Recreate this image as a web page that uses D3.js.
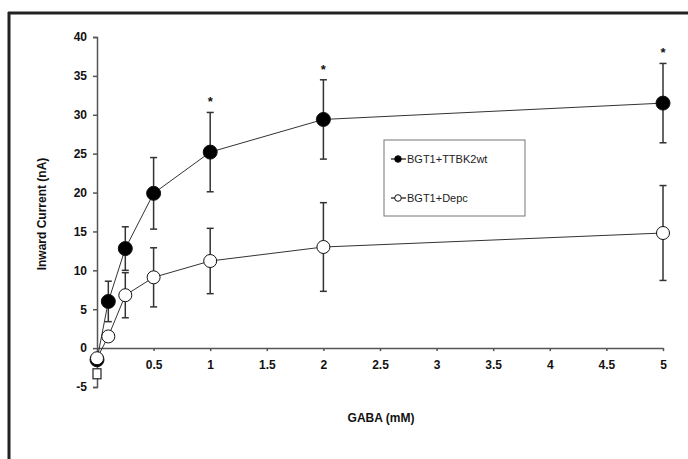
<!DOCTYPE html>
<html>
<head>
<meta charset="utf-8">
<script src="https://cdn.jsdelivr.net/npm/d3@7"></script>
<style>
  body { margin: 0; background: #fff; }
  text { font-family: "Liberation Sans", Arial, sans-serif; }
  .tick text { font-weight: bold; font-size: 12px; fill: #111; }
</style>
</head>
<body>
<svg id="chart" width="688" height="459"></svg>
<script>
const width = 688;
const height = 459;

// GABA concentration (mM)
const gaba = [0, 0.1, 0.25, 0.5, 1, 2, 5];

// BGT1+TTBK2wt mean and SEM
const ttbkMean = [-1.5, 6.0, 12.8, 19.9, 25.2, 29.4, 31.5];
const ttbkErr  = [0.5, 2.6, 2.8, 4.6, 5.1, 5.1, 5.1];

// BGT1+Depc mean and SEM
const depcMean = [-1.3, 1.5, 6.8, 9.1, 11.2, 13.0, 14.8];
const depcErr  = [0.4, 0.6, 2.9, 3.8, 4.2, 5.7, 6.1];

// control square markers at 0 mM
const ctrlX = [0];
const ctrlMean = [-3.3];

// significance marks
const starX = [1, 2, 5];

const xTicks = [0.5, 1, 1.5, 2, 2.5, 3, 3.5, 4, 4.5, 5];
const yTicks = [-5, 0, 5, 10, 15, 20, 25, 30, 35, 40];

const svg = d3.select('#chart');

// frame (left and top only)
svg.append('line').attr('x1', 9).attr('x2', 9).attr('y1', 12).attr('y2', height)
  .attr('stroke', '#222').attr('stroke-width', 3);
svg.append('line').attr('x1', 8).attr('x2', width).attr('y1', 13).attr('y2', 13)
  .attr('stroke', '#222').attr('stroke-width', 3);

const xscale = d3.scaleLinear().domain([0, 5]).range([97, 663]);
const yscale = d3.scaleLinear().domain([-5, 40]).range([387, 37]);

// y axis
const leftAxis = d3.axisLeft(yscale).tickValues(yTicks).tickSize(4).tickPadding(6).tickFormat((d) => String(d));
const gy = svg.append('g').attr('transform', `translate(${xscale(0)}, 0)`).call(leftAxis);
gy.select('.domain').attr('stroke', '#555').attr('stroke-width', 1.5);
gy.selectAll('.tick line').attr('stroke', '#555').attr('stroke-width', 1.5);

// x axis at y = 0
const bottomAxis = d3.axisBottom(xscale).tickValues(xTicks).tickSize(3).tickPadding(9).tickSizeOuter(0)
  .tickFormat((d) => String(d));
const gx = svg.append('g').attr('transform', `translate(0, ${yscale(0)})`).call(bottomAxis);
gx.select('.domain').attr('stroke', '#555').attr('stroke-width', 1.5);
gx.selectAll('.tick line').attr('stroke', '#555').attr('stroke-width', 1.5);

// axis titles
svg.append('text')
  .text('GABA (mM)')
  .attr('x', 381).attr('y', 422)
  .attr('text-anchor', 'middle')
  .attr('font-size', 12).attr('font-weight', 'bold').attr('fill', '#111');

svg.append('text')
  .text('Inward Current (nA)')
  .attr('transform', 'translate(46, 214) rotate(-90)')
  .attr('text-anchor', 'middle')
  .attr('font-size', 12).attr('font-weight', 'bold').attr('fill', '#111');

const series = [
  { mean: depcMean, err: depcErr, fill: '#fff', r: 6.5 },
  { mean: ttbkMean, err: ttbkErr, fill: '#000', r: 7 }
];

const line = d3.line().x((d) => xscale(d[0])).y((d) => yscale(d[1]));

for (const s of series) {
  const pts = gaba.map((g, i) => [g, s.mean[i], s.err[i]]);

  svg.append('path')
    .attr('d', line(pts))
    .attr('fill', 'none')
    .attr('stroke', '#333')
    .attr('stroke-width', 1);

  const eb = svg.append('g').attr('stroke', '#333').attr('stroke-width', 1.5);
  eb.selectAll('line.v').data(pts).enter().append('line')
    .attr('x1', (d) => xscale(d[0])).attr('x2', (d) => xscale(d[0]))
    .attr('y1', (d) => yscale(d[1] - d[2])).attr('y2', (d) => yscale(d[1] + d[2]));
  eb.selectAll('line.t').data(pts).enter().append('line')
    .attr('x1', (d) => xscale(d[0]) - 3.5).attr('x2', (d) => xscale(d[0]) + 3.5)
    .attr('y1', (d) => yscale(d[1] + d[2])).attr('y2', (d) => yscale(d[1] + d[2]));
  eb.selectAll('line.b').data(pts).enter().append('line')
    .attr('x1', (d) => xscale(d[0]) - 3.5).attr('x2', (d) => xscale(d[0]) + 3.5)
    .attr('y1', (d) => yscale(d[1] - d[2])).attr('y2', (d) => yscale(d[1] - d[2]));
}

// control squares
svg.selectAll('rect.ctrl').data(ctrlX).enter().append('rect')
  .attr('x', (d) => xscale(d) - 4).attr('y', (d, i) => yscale(ctrlMean[i]) - 5)
  .attr('width', 8).attr('height', 10)
  .attr('fill', '#fff').attr('stroke', '#222').attr('stroke-width', 1.2);

for (const s of [series[1], series[0]]) {
  svg.append('g').selectAll('circle').data(gaba).enter().append('circle')
    .attr('cx', (d) => xscale(d))
    .attr('cy', (d, i) => yscale(s.mean[i]))
    .attr('r', s.r)
    .attr('fill', s.fill)
    .attr('stroke', '#111')
    .attr('stroke-width', 1);
}

// significance asterisks
svg.selectAll('text.star').data(starX).enter().append('text')
  .text('*')
  .attr('x', (d) => xscale(d))
  .attr('y', (d) => yscale(ttbkMean[gaba.indexOf(d)] + ttbkErr[gaba.indexOf(d)]) - 6)
  .attr('text-anchor', 'middle')
  .attr('font-size', 13).attr('font-weight', 'bold').attr('fill', '#111');

// legend
const legend = svg.append('g');
legend.append('rect')
  .attr('x', 384).attr('y', 140).attr('width', 141).attr('height', 76)
  .attr('fill', '#fff').attr('stroke', '#777').attr('stroke-width', 1);

const legendItems = [
  { label: 'BGT1+TTBK2wt', fill: '#000' },
  { label: 'BGT1+Depc', fill: '#fff' }
];

legendItems.forEach((item, i) => {
  const y = 159 + i * 39;
  legend.append('line').attr('x1', 391).attr('x2', 406).attr('y1', y).attr('y2', y)
    .attr('stroke', '#111').attr('stroke-width', 1.2);
  legend.append('circle').attr('cx', 398).attr('cy', y).attr('r', 3.3)
    .attr('fill', item.fill).attr('stroke', '#111').attr('stroke-width', 1);
  legend.append('text').text(item.label)
    .attr('x', 407).attr('y', y + 4)
    .attr('font-size', 11).attr('fill', '#222');
});
</script>
</body>
</html>
